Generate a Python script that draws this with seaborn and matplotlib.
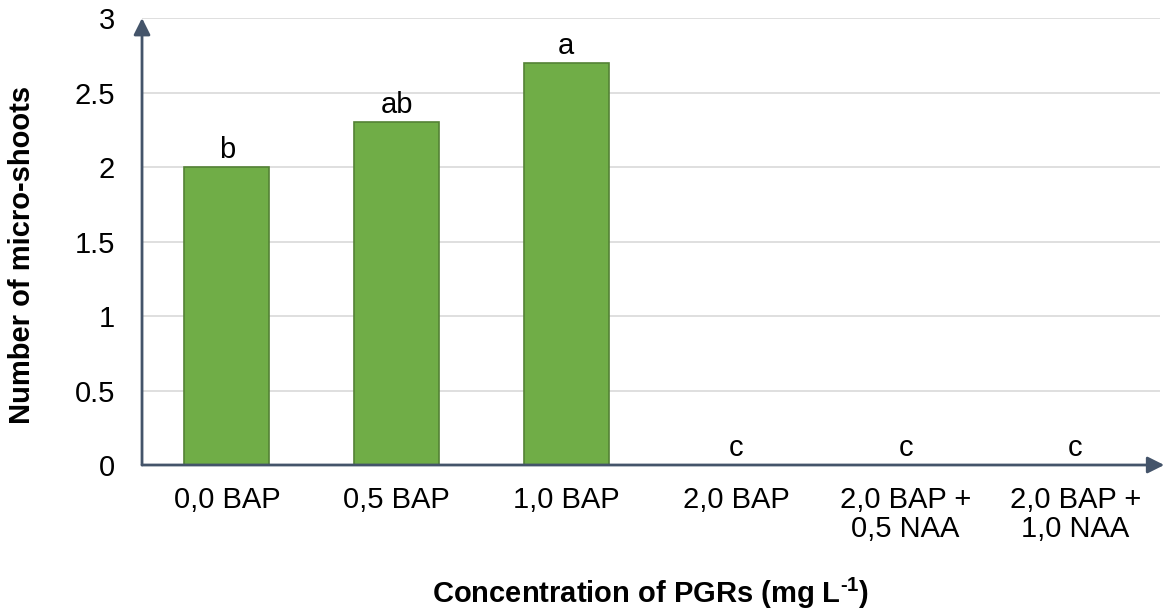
import numpy as np
import pandas as pd
import matplotlib
matplotlib.use("Agg")
import matplotlib.pyplot as plt
import seaborn as sns

# data
treatments = ["0,0 BAP", "0,5 BAP", "1,0 BAP", "2,0 BAP",
              "2,0 BAP +\n0,5 NAA", "2,0 BAP +\n1,0 NAA"]
shoots = [2.0, 2.3, 2.7, 0.0, 0.0, 0.0]
letters = ["b", "ab", "a", "c", "c", "c"]
yticks = [0, 0.5, 1, 1.5, 2, 2.5, 3]

sns.set_style("white")
plt.rcParams["font.family"] = ["Liberation Sans", "DejaVu Sans"]
plt.rcParams["mathtext.fontset"] = "custom"
plt.rcParams["mathtext.bf"] = "Liberation Sans:bold"
plt.rcParams["mathtext.rm"] = "Liberation Sans:bold"
for key in ["text.color", "axes.labelcolor", "xtick.labelcolor", "ytick.labelcolor"]:
    plt.rcParams[key] = "black"

df = pd.DataFrame({"treatment": treatments, "shoots": shoots})

axis_col = "#44546A"
fs = 21
fig = plt.figure(figsize=(11.66, 6.15), dpi=100)
ax = fig.add_axes([0.1218, 0.2439, 0.8732, 0.7268])

sns.barplot(data=df, x="treatment", y="shoots", color="#70AD47",
            edgecolor="#548235", linewidth=1.2, width=0.5, saturation=1,
            ax=ax, zorder=3)

ax.set_ylim(0, 3)
ax.set_xlim(-0.5, len(treatments) - 0.5)
ax.set_yticks(yticks)
ax.set_yticklabels([f"{t:g}" for t in yticks])
ax.yaxis.grid(True, color="#D9D9D9", linewidth=1.2, zorder=0)
ax.set_axisbelow(True)
ax.tick_params(axis="both", length=0, labelsize=fs, labelcolor="black")
ax.tick_params(axis="y", pad=19.5)
ax.tick_params(axis="x", pad=15)
for t in ax.get_xticklabels():
    t.set_linespacing(1.05)

for s in ax.spines.values():
    s.set_visible(False)

# axis lines with arrow heads
arrow = dict(arrowstyle="-|>,head_length=1.0,head_width=0.5",
             color=axis_col, lw=2, shrinkA=0, shrinkB=0)
ax.annotate("", xy=(0, 1.0), xytext=(0, 0), xycoords="axes fraction",
            arrowprops=arrow, annotation_clip=False)
ax.annotate("", xy=(1.004, 0), xytext=(0, 0), xycoords="axes fraction",
            arrowprops=arrow, annotation_clip=False)

for i, (v, lab) in enumerate(zip(shoots, letters)):
    ax.annotate(lab, (i, v), xytext=(0, 6.5), textcoords="offset points",
                ha="center", va="baseline", fontsize=fs, color="black")

ax.set_xlabel(r"Concentration of PGRs (mg L$^{\text{-}\mathbf{1}}$)",
              fontsize=fs, fontweight="bold", color="black")
ax.xaxis.label.set_va("baseline")
ax.xaxis.set_label_coords(0.5, -0.309)
ax.set_ylabel("Number of micro-shoots", fontsize=fs, fontweight="bold",
              va="center", color="black")
ax.yaxis.set_label_coords(-0.118, 0.47)

fig.savefig("out.png", dpi=100)
